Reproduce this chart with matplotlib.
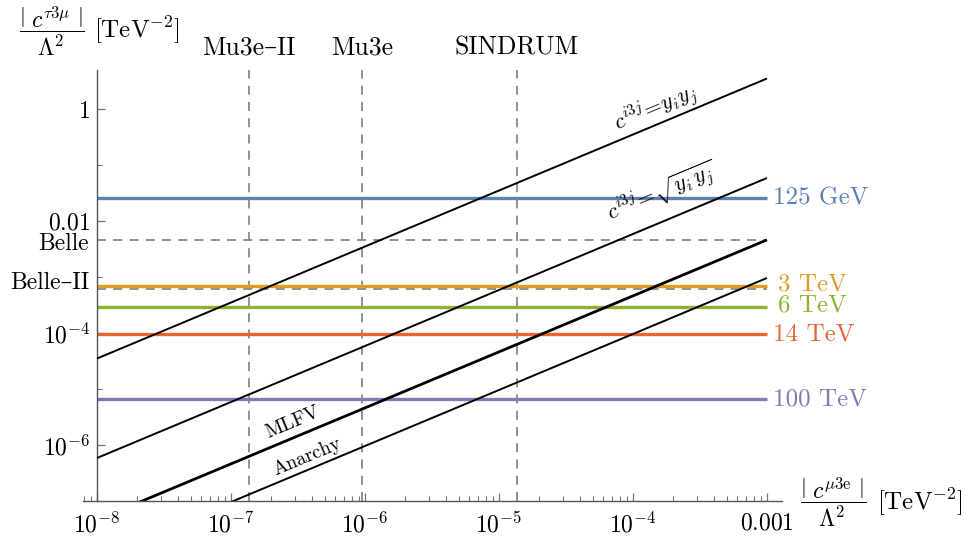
import numpy as np
import matplotlib
matplotlib.use("Agg")
import matplotlib.pyplot as plt
from matplotlib.ticker import FixedLocator, FixedFormatter, NullFormatter

plt.rcParams['font.family'] = ['cmr10', 'DejaVu Serif']
plt.rcParams['mathtext.fontset'] = 'cm'
plt.rcParams['axes.unicode_minus'] = False

# ---- data ----
x_range = [1e-8, 1e-3]
# horizontal scale lines (|c|/Lambda^2 reach)
scale_labels = ["125 GeV", "3 TeV", "6 TeV", "14 TeV", "100 TeV"]
scale_values = [0.0257, 6.9e-4, 2.95e-4, 9.6e-5, 6.5e-6]
scale_colors = ["#5E81B5", "#E19C24", "#8FB032", "#EB6235", "#8778B3"]
# experimental limits
tau_limit_labels = ["Belle", "Belle\u2013II"]
tau_limit_values = [4.6e-3, 6.1e-4]
mu_limit_labels = ["Mu3e\u2013II", "Mu3e", "SINDRUM"]
mu_limit_values = [1.36e-7, 9.55e-7, 1.355e-5]
# model lines: c_tau = k * c_mu
model_names = ["yiyj", "sqrt", "MLFV", "Anarchy"]
model_ratios = [3500.0, 58.6, 4.6, 0.96]
model_widths = [1.4, 1.4, 2.0, 1.4]
# ticks
xtick_vals = [1e-8, 1e-7, 1e-6, 1e-5, 1e-4, 1e-3]
xtick_labels = [r"$10^{-8}$", r"$10^{-7}$", r"$10^{-6}$", r"$10^{-5}$", r"$10^{-4}$", r"$0.001$"]
ytick_vals = [1.0, 1e-2, 1e-4, 1e-6]
ytick_labels = [r"$1$", r"$0.01$", r"$10^{-4}$", r"$10^{-6}$"]
ytick_minor = [1e-1, 1e-3, 1e-5, 1e-7]

W, H = 966, 539
fig = plt.figure(figsize=(W / 100, H / 100), dpi=100)
ax = fig.add_axes([83 / W, (H - 501) / H, 699 / W, 431 / H])
ax.set_xscale('log')
ax.set_yscale('log')
ax.set_xlim(10 ** -8.1045, 10 ** -2.888)
ax.set_ylim(1e-7, 10 ** 0.696)

def px(x, y):
    return x / W, 1 - y / H

# dashed limits
for v in mu_limit_values:
    ax.axvline(v, color='#888888', lw=1.3, ls=(0, (5, 4)), zorder=1.5)
for v in tau_limit_values:
    ax.hlines(v, x_range[0], x_range[1], color='#888888', lw=1.3, ls=(0, (5, 4)), zorder=1.5)

# horizontal scale lines
for v, c in zip(scale_values, scale_colors):
    ax.hlines(v, x_range[0], x_range[1], color=c, lw=2.4, zorder=2)

# model lines
xs = np.logspace(np.log10(x_range[0]), np.log10(x_range[1]), 200)
for k, lw in zip(model_ratios, model_widths):
    ax.plot(xs, k * xs, color='black', lw=lw, zorder=3, solid_capstyle='butt')

# axes styling
for s in ['top', 'right']:
    ax.spines[s].set_visible(False)
ax.spines['left'].set_position(('data', 1e-8))
ax.spines['left'].set_color('#555555')
ax.spines['bottom'].set_color('#555555')
ax.spines['left'].set_linewidth(1.0)
ax.spines['bottom'].set_linewidth(1.0)

ax.xaxis.set_major_locator(FixedLocator(xtick_vals))
ax.xaxis.set_major_formatter(FixedFormatter(xtick_labels))
xminor = [m * 10.0 ** e for e in range(-9, -2) for m in range(2, 10)]
ax.xaxis.set_minor_locator(FixedLocator(xminor))
ax.xaxis.set_minor_formatter(NullFormatter())
ax.yaxis.set_major_locator(FixedLocator(ytick_vals))
ax.yaxis.set_major_formatter(FixedFormatter(ytick_labels))
ax.yaxis.set_minor_locator(FixedLocator(ytick_minor))
ax.yaxis.set_minor_formatter(NullFormatter())
ax.tick_params(which='major', direction='in', length=6, width=0.9, color='#777777',
               labelsize=17, pad=5)
ax.tick_params(which='minor', direction='in', length=3.5, width=0.8, color='#777777')
ax.tick_params(axis='x', which='major', pad=8)

# labels at top
for lab, v in zip(mu_limit_labels, mu_limit_values):
    xd = ax.transData.transform((v, 1))[0]
    fig.text(xd / W, 1 - 48 / H, lab, ha='center', va='center', fontsize=18.5)

# left labels for tau limits
for lab, v, yoff in zip(tau_limit_labels, tau_limit_values, [4, -6]):
    yd = ax.transData.transform((1e-8, v))[1]
    fig.text(89 / W, (yd - yoff) / H, lab, ha='right', va='center', fontsize=17)

# right labels for scales
right_x = [773, 778, 778, 773, 773]
right_dy = [0, 2, 1, 0, 0]
for lab, v, c, rx, dy in zip(scale_labels, scale_values, scale_colors, right_x, right_dy):
    yd = ax.transData.transform((1e-3, v))[1]
    fig.text(rx / W, (yd + dy) / H, lab, ha='left', va='center', fontsize=18, color=c)

# line labels
ang = np.degrees(np.arctan2(56, 134))
fig.text(*px(655, 108), r"$c^{i3j}\!=\!y_i y_j$", rotation=ang, ha='center', va='center',
         fontsize=16, rotation_mode='anchor')
fig.text(*px(662, 192), r"$c^{i3j}\!=\!\sqrt{y_i\, y_j}$", rotation=ang, ha='center', va='center',
         fontsize=16, rotation_mode='anchor')
fig.text(*px(293, 422), "MLFV", rotation=ang, ha='center', va='center', fontsize=14,
         rotation_mode='anchor')
fig.text(*px(307, 457), "Anarchy", rotation=ang, ha='center', va='center', fontsize=14,
         rotation_mode='anchor')

# axis labels
fig.text(*px(52, 31), r"$\dfrac{\left|\ c^{\tau 3\mu}\ \right|}{\Lambda^2}$", ha='center', va='center',
         fontsize=17)
fig.text(*px(94, 30), r"[TeV$^{-2}$]", ha='left', va='center', fontsize=18)
fig.text(*px(833, 502), r"$\dfrac{\left|\ c^{\mu 3\mathrm{e}}\ \right|}{\Lambda^2}$", ha='center', va='center',
         fontsize=17)
fig.text(*px(877, 502), r"[TeV$^{-2}$]", ha='left', va='center', fontsize=18)

fig.savefig("out.png", dpi=100)
